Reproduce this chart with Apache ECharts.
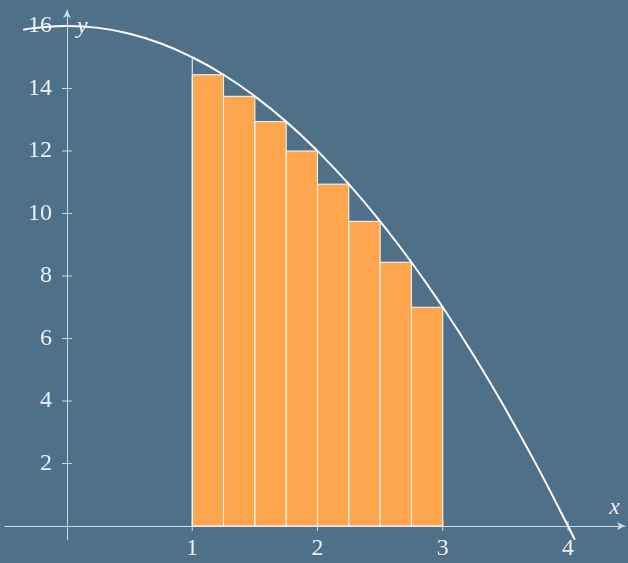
<!DOCTYPE html>
<html><head><meta charset="utf-8">
<script src="https://cdn.jsdelivr.net/npm/echarts@6/dist/echarts.min.js"></script>
<style>html,body{margin:0;padding:0;background:#4e7189}#c{width:628px;height:563px}</style>
</head><body><div id="c"></div>
<script>
// curve y = 16 - x^2
const curveX = [-0.35,-0.25,0,0.25,0.5,0.75,1,1.25,1.5,1.75,2,2.25,2.5,2.75,3,3.25,3.5,3.75,4,4.055];
const curveY = [15.88,15.94,16,15.94,15.75,15.44,15,14.44,13.75,12.94,12,10.94,9.75,8.44,7,5.44,3.75,1.94,0,-0.44];
const barLeft = [1,1.25,1.5,1.75,2,2.25,2.5,2.75];
const barRight = [1.25,1.5,1.75,2,2.25,2.5,2.75,3];
const barHeight = [14.44,13.75,12.94,12,10.94,9.75,8.44,7];
const startLine = [[1,0],[1,15]];
const xTicks = [1,2,3,4];
const yTicks = [2,4,6,8,10,12,14,16];

const axisColor = '#d3dbe2';
const textColor = '#eef1f4';
const font = '"Liberation Serif", "DejaVu Serif", serif';

const chart = echarts.init(document.getElementById('c'), null, {renderer:'canvas'});
chart.setOption({
  backgroundColor: '#4e7189',
  animation: false,
  grid: {left:5, right:3, top:10, bottom:23, containLabel:false, outerBoundsMode:'none'},
  xAxis: {
    type:'value', min:-0.495, max:4.455, position:'bottom', offset:-14,
    splitLine:{show:false},
    axisLine:{onZero:false, lineStyle:{color:axisColor,width:1}, symbol:['none','arrow'], symbolSize:[6,8]},
    axisTick:{show:false},
    axisLabel:{customValues:xTicks, color:textColor, fontFamily:font, fontSize:24, margin:11},
    name:'x', nameLocation:'end', nameGap:-5,
    nameTextStyle:{color:textColor, fontFamily:font, fontStyle:'italic', fontSize:24, align:'right', verticalAlign:'bottom', padding:[0,0,6,0]}
  },
  yAxis: {
    type:'value', min:-0.448, max:16.512, position:'left', offset:-62,
    splitLine:{show:false},
    axisLine:{onZero:false, lineStyle:{color:axisColor,width:1}, symbol:['none','arrow'], symbolSize:[6,8]},
    axisTick:{show:false},
    axisLabel:{customValues:yTicks, color:textColor, fontFamily:font, fontSize:24, margin:15},
    name:'y', nameLocation:'end', nameGap:-17,
    nameTextStyle:{color:textColor, fontFamily:font, fontStyle:'italic', fontSize:24, align:'left', verticalAlign:'middle', padding:[0,0,0,10]}
  },
  series: [
    {
      type:'custom', z:1, silent:true,
      data: xTicks.map(v=>[v,0]),
      renderItem:(params, api)=>{
        const p = api.coord([api.value(0),0]);
        return {type:'line', shape:{x1:p[0],y1:p[1]-5,x2:p[0],y2:p[1]+5}, style:{stroke:axisColor,lineWidth:1}};
      }
    },
    {
      type:'custom', z:1, silent:true,
      data: yTicks.map(v=>[0,v]),
      renderItem:(params, api)=>{
        const p = api.coord([0,api.value(1)]);
        return {type:'line', shape:{x1:p[0]-5,y1:p[1],x2:p[0]+5,y2:p[1]}, style:{stroke:axisColor,lineWidth:1}};
      }
    },
    {
      type:'custom', z:2, silent:true,
      data: barLeft.map((l,i)=>[l,barRight[i],barHeight[i]]),
      encode:{x:[0,1], y:2},
      renderItem:(params, api)=>{
        const a = api.coord([api.value(0), api.value(2)]);
        const b = api.coord([api.value(1), 0]);
        return {type:'rect', shape:{x:a[0], y:a[1], width:b[0]-a[0], height:b[1]-a[1]},
          style:{fill:'#fea64d', stroke:'#ffffff', lineWidth:1}};
      }
    },
    {
      type:'line', z:3, data:startLine, symbol:'none', silent:true,
      lineStyle:{color:'#ffffff', width:1}
    },
    {
      type:'line', z:4, data:curveX.map((x,i)=>[x,curveY[i]]), symbol:'none', smooth:true, silent:true,
      lineStyle:{color:'#ffffff', width:2}
    }
  ]
});
</script>
</body></html>
